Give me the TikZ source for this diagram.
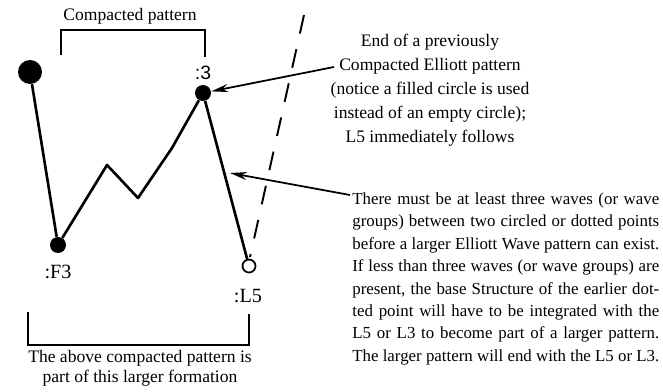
\documentclass[tikz,border=0pt]{standalone}
\usepackage{fontspec}
\setmainfont{Liberation Serif}
\setsansfont{Liberation Sans}
\usetikzlibrary{arrows.meta,positioning}

\begin{document}
\begin{tikzpicture}[x=0.02cm,y=-0.02cm, >={Stealth[length=0.34cm,width=0.16cm]},
  font=\fontsize{10}{13.6}\selectfont,
  dot/.style={circle,fill,inner sep=0pt,minimum size=#1},
  ring/.style={circle,draw,line width=1pt,inner sep=0pt,minimum size=0.26cm},
  wave/.style={line width=1.5pt,line join=round},
  brace/.style={line width=0.9pt},
  lbl/.style={font=\fontsize{11.5}{13}\selectfont,inner sep=0pt}]
  \useasboundingbox (0,0) rectangle (663,392);
  % wave points
  \node[dot=0.48cm] (top) at (30,72) {};
  \node[dot=0.32cm] (f3) at (58,245) {};
  \node[dot=0.32cm] (p3) at (203,93) {};
  \node[ring] (l5) at (249,266) {};
  \coordinate (w1) at (107,165); \coordinate (w2) at (138,198); \coordinate (w3) at (172,148);
  \draw[wave] (top) -- (f3) -- (w1) -- (w2) -- (w3) -- (p3) -- (l5);
  \node[lbl] (f3l) at (58,272) {:F3};
  \node[lbl,font=\sffamily\fontsize{11}{13}\selectfont] (p3l) at (203,73) {:3};
  \node[lbl] (l5l) at (248,296) {:L5};
  % brackets
  \draw[brace] (61,55) |- (205,30) -- (205,57);
  \node (cp) at (130,16) {Compacted pattern};
  \draw[brace] (28,312) |- (249,345) -- (249,314);
  \node[align=center,inner sep=0pt,font=\fontsize{10}{11.3}\selectfont] (big) at (140,368)
    {The above compacted pattern is\\part of this larger formation};
  % dashed divider
  \coordinate (dtop) at (304,15); \coordinate (dbot) at (250,257);
  \draw[line width=1.1pt,dash pattern=on 0.38cm off 0.32cm] (dtop) -- (dbot);
  % notes
  \node[align=center,inner sep=0pt,anchor=north] (endnote) at (430,34)
    {End of a previously\\Compacted Elliott pattern\\(notice a filled circle is used\\instead of an empty circle);\\L5 immediately follows};
  \coordinate (a1) at (334,67);
  \draw[->,line width=1pt] (a1) -- (p3);
  \node[anchor=north west,inner sep=0pt,text width=6.14cm,align=justify,
    font=\fontsize{9.6}{12.8}\selectfont] (rule) at (352,192)
    {\parfillskip=0pt There must be at least three waves (or wave\linebreak
     groups) between two circled or dotted points\linebreak
     before a larger Elliott Wave pattern can exist.\linebreak
     If less than three waves (or wave groups) are\linebreak
     present, the base Structure of the earlier dot-\linebreak
     ted point will have to be integrated with the\linebreak
     L5 or L3 to become part of a larger pattern.\linebreak
     The larger pattern will end with the L5 or L3.};
  \coordinate (a2) at (350,195);
  \draw[->,line width=1pt] (a2) -- (230,173);
\end{tikzpicture}
\end{document}
